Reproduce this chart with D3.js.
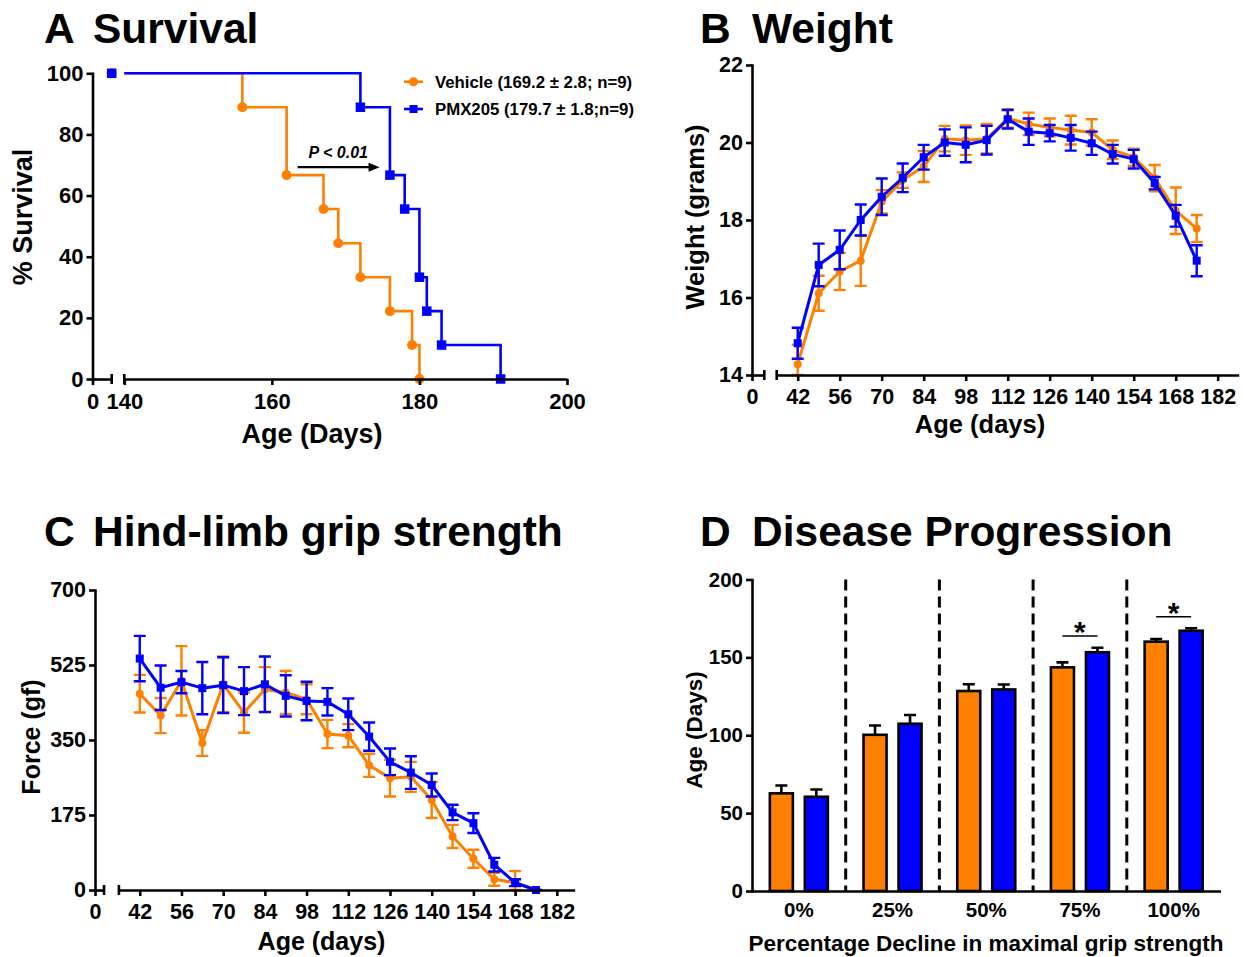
<!DOCTYPE html>
<html>
<head>
<meta charset="utf-8">
<script src="https://cdn.jsdelivr.net/npm/d3@7"></script>
<style>
  body { margin: 0; background: #fff; }
  svg { display: block; }
</style>
</head>
<body>
<svg id="chart" width="1244" height="957"></svg>
<script>
const ORANGE = '#ff8000';
const BLUE = '#0000ff';
const FONT = '"Liberation Sans", Arial, Helvetica, sans-serif';

// A - survival (event day, % surviving after it)
const vehicleDays = [0, 156, 162, 167, 169, 172, 176, 179, 180];
const vehicleSurvival = [100, 88.9, 66.7, 55.6, 44.4, 33.3, 22.2, 11.1, 0];
const pmxDays = [0, 172, 176, 178, 180, 181, 183, 191];
const pmxSurvival = [100, 88.9, 66.7, 55.6, 33.3, 22.2, 11.1, 0];
const legendLabels = ['Vehicle (169.2 \u00b1 2.8; n=9)', 'PMX205 (179.7 \u00b1 1.8;n=9)'];

// B and C share the weekly ages
const ageDays = [42, 49, 56, 63, 70, 77, 84, 91, 98, 105, 112, 119, 126, 133, 140, 147, 154, 161, 168, 175];

// B - weight (g)
const vehicleWeight = [14.28, 16.11, 16.67, 16.95, 18.47, 19.03, 19.38, 20.10, 20.06, 20.10, 20.62, 20.48, 20.39, 20.32, 20.26, 19.81, 19.62, 19.08, 18.24, 17.78];
const vehicleWeightSem = [0.5, 0.45, 0.48, 0.65, 0.3, 0.2, 0.4, 0.33, 0.38, 0.38, 0.24, 0.29, 0.23, 0.37, 0.34, 0.24, 0.22, 0.34, 0.6, 0.35];
const pmxWeight = [14.82, 16.84, 17.23, 18.0, 18.6, 19.09, 19.62, 20.0, 19.94, 20.06, 20.6, 20.28, 20.24, 20.12, 19.98, 19.70, 19.57, 18.95, 18.11, 16.95];
const pmxWeightSem = [0.4, 0.55, 0.5, 0.4, 0.47, 0.37, 0.32, 0.34, 0.45, 0.37, 0.24, 0.34, 0.21, 0.33, 0.3, 0.24, 0.24, 0.16, 0.28, 0.4];

// C - hind-limb grip force (gf)
const vehicleForce = [458, 407, 488, 343, 480, 414, 468, 461, 445, 364, 360, 291, 261, 264, 210, 125, 73, 25, 17, 0];
const vehicleForceSem = [44, 41, 81, 30, 65, 47, 52, 50, 35, 33, 27, 27, 43, 35, 42, 27, 21, 15, 27, 0];
const pmxForce = [540, 472, 485, 471, 478, 464, 480, 453, 441, 439, 410, 358, 299, 274, 245, 181, 156, 59, 17, 0];
const pmxForceSem = [53, 52, 26, 61, 65, 56, 65, 48, 45, 32, 37, 33, 31, 38, 27, 18, 23, 16, 8, 0];

// D - age at grip strength decline (days)
const declineLevels = ['0%', '25%', '50%', '75%', '100%'];
const vehicleOnset = [62.7, 100.3, 128.4, 143.6, 160.1];
const vehicleOnsetSem = [5, 6, 4.3, 3.2, 1.7];
const pmxOnset = [60.5, 107.4, 129.4, 153.3, 167.1];
const pmxOnsetSem = [4.7, 5.6, 3.2, 2.9, 1.6];
const significantLevels = ['75%', '100%'];
const significanceHeights = [163.7, 176.1];

const svg = d3.select('#chart')
  .attr('font-family', FONT)
  .attr('font-weight', 'bold');

function styleAxis(a, size) {
  a.attr('font-family', FONT).attr('font-size', size).attr('font-weight', 'bold');
  a.selectAll('.domain').attr('stroke', '#000').attr('stroke-width', 2.6).attr('stroke-linecap', 'square');
  a.selectAll('.tick line').attr('stroke', '#000').attr('stroke-width', 2.6);
  a.selectAll('.tick text').attr('fill', '#000');
}

function yAxis(g, y, ticks, xPos, size) {
  const a = g.append('g').attr('transform', `translate(${xPos},0)`)
    .call(d3.axisLeft(y).tickValues(ticks).tickFormat(d3.format('d'))
      .tickSize(6).tickSizeOuter(0).tickPadding(3));
  styleAxis(a, size);
}

// x axis with a short piece carrying 0, a gap, then the real range
function brokenXAxis(g, x0, x, yPos, ticks, size) {
  const a0 = g.append('g').attr('transform', `translate(0,${yPos})`)
    .call(d3.axisBottom(x0).tickValues([0]).tickFormat(d3.format('d'))
      .tickSize(6).tickSizeOuter(0).tickPadding(8));
  const a1 = g.append('g').attr('transform', `translate(0,${yPos})`)
    .call(d3.axisBottom(x).tickValues(ticks).tickFormat(d3.format('d'))
      .tickSize(6).tickSizeOuter(0).tickPadding(8));
  styleAxis(a0, size);
  styleAxis(a1, size);
  a0.select('.domain').attr('stroke-linecap', 'butt');
  a1.select('.domain').attr('stroke-linecap', 'butt');
  g.append('g').selectAll('line')
    .data([x0.range()[1], x.range()[0]])
    .join('line')
    .attr('x1', d => d).attr('x2', d => d)
    .attr('y1', yPos - 5).attr('y2', yPos + 5)
    .attr('stroke', '#000').attr('stroke-width', 2.6);
}

function drawMarkers(g, pts, shape, color, size) {
  if (shape === 'circle') {
    g.append('g').selectAll('circle').data(pts).join('circle')
      .attr('cx', d => d[0]).attr('cy', d => d[1]).attr('r', size / 2)
      .attr('fill', color);
  } else {
    g.append('g').selectAll('rect').data(pts).join('rect')
      .attr('x', d => d[0] - size / 2).attr('y', d => d[1] - size / 2)
      .attr('width', size).attr('height', size)
      .attr('fill', color);
  }
}

function title(letter, text, lx, tx, y) {
  const t = svg.append('g').attr('font-size', 42.5).attr('fill', '#000');
  t.append('text').attr('x', lx).attr('y', y).text(letter);
  t.append('text').attr('x', tx).attr('y', y).text(text);
}

function axisTitle(text, x, y, size, rotate) {
  const t = svg.append('text')
    .attr('font-size', size)
    .attr('text-anchor', 'middle')
    .attr('fill', '#000')
    .text(text);
  if (rotate) {
    t.attr('transform', `translate(${x},${y}) rotate(-90)`).attr('dy', '0.36em');
  } else {
    t.attr('x', x).attr('y', y);
  }
}

// ---------- A Survival ----------
title('A', 'Survival', 44, 93, 43);
const gA = svg.append('g');
const xA0 = d3.scaleLinear().domain([0, 2.5]).range([92.5, 111.7]);
const xA = d3.scaleLinear().domain([140, 200]).range([124.3, 567]);
const yA = d3.scaleLinear().domain([0, 100]).range([379, 73.3]);

const stepLine = d3.line()
  .curve(d3.curveStepAfter)
  .x(d => xA(Math.max(d.day, xA.domain()[0])))
  .y(d => yA(d.s));

const survival = [
  { days: vehicleDays, surv: vehicleSurvival, color: ORANGE, shape: 'circle' },
  { days: pmxDays, surv: pmxSurvival, color: BLUE, shape: 'square' }
];
survival.forEach(s => {
  const pts = s.days.map((d, i) => ({ day: d, s: s.surv[i] }));
  gA.append('path').datum(pts)
    .attr('d', stepLine)
    .attr('fill', 'none')
    .attr('stroke', s.color)
    .attr('stroke-width', 2.6);
  drawMarkers(gA, pts.map(p => [p.day === 0 ? xA0.range()[1] : xA(p.day), yA(p.s)]),
    s.shape, s.color, s.shape === 'circle' ? 10 : 9.5);
});
yAxis(gA, yA, [0, 20, 40, 60, 80, 100], xA0.range()[0], 22);
brokenXAxis(gA, xA0, xA, yA(0), [140, 160, 180, 200], 22);

// p-value arrow
const arrowY = yA(69.3);
const arrowFrom = xA(163.5), arrowTo = xA(174.6);
gA.append('line')
  .attr('x1', arrowFrom).attr('x2', arrowTo - 8)
  .attr('y1', arrowY).attr('y2', arrowY)
  .attr('stroke', '#000').attr('stroke-width', 2.2);
gA.append('path')
  .attr('d', `M${arrowTo},${arrowY}L${arrowTo - 11},${arrowY - 4.5}L${arrowTo - 11},${arrowY + 4.5}Z`)
  .attr('fill', '#000');
gA.append('text')
  .attr('x', xA(169)).attr('y', yA(72.2))
  .attr('text-anchor', 'middle')
  .attr('font-size', 16)
  .attr('font-style', 'italic')
  .text('P < 0.01');

// legend
const legend = gA.append('g');
legendLabels.forEach((lab, i) => {
  const ly = 81.7 + i * 27.3;
  const s = survival[i];
  legend.append('line')
    .attr('x1', 404).attr('x2', 423).attr('y1', ly).attr('y2', ly)
    .attr('stroke', s.color).attr('stroke-width', 2.6);
  drawMarkers(legend, [[413.5, ly]], s.shape, s.color, s.shape === 'circle' ? 9 : 8);
  legend.append('text')
    .attr('x', 435).attr('y', ly).attr('dy', '0.36em')
    .attr('font-size', 16.8)
    .text(lab);
});
axisTitle('% Survival', 22, 217, 27, true);
axisTitle('Age (Days)', 312, 443, 27, false);

// ---------- B / C line panels ----------
function linePanel(spec) {
  const g = svg.append('g');
  const series = [
    { values: spec.vehicle, sem: spec.vehicleSem, color: ORANGE, shape: 'circle' },
    { values: spec.pmx, sem: spec.pmxSem, color: BLUE, shape: 'square' }
  ];
  const line = d3.line().x(d => spec.x(d.day)).y(d => spec.y(d.v));
  series.forEach(s => {
    const pts = ageDays.map((d, i) => ({ day: d, v: s.values[i], e: s.sem[i] }));
    const eb = g.append('g').attr('stroke', s.color).attr('stroke-width', 2.4);
    eb.selectAll('path').data(pts).join('path')
      .attr('d', p => {
        const cx = spec.x(p.day), lo = spec.y(p.v - p.e), hi = spec.y(p.v + p.e);
        return `M${cx},${lo}V${hi}M${cx - 6},${hi}H${cx + 6}M${cx - 6},${lo}H${cx + 6}`;
      })
      .attr('fill', 'none');
    g.append('path').datum(pts)
      .attr('d', line)
      .attr('fill', 'none')
      .attr('stroke', s.color)
      .attr('stroke-width', 3)
      .attr('stroke-linejoin', 'round');
    drawMarkers(g, pts.map(p => [spec.x(p.day), spec.y(p.v)]), s.shape, s.color, 8);
  });
  yAxis(g, spec.y, spec.yTicks, spec.x0.range()[0], 21.5);
  brokenXAxis(g, spec.x0, spec.x, spec.y.range()[0], spec.xTicks, 21.5);
}

const weekTicks = d3.range(42, 183, 14);

title('B', 'Weight', 700, 752, 43);
linePanel({
  x0: d3.scaleLinear().domain([0, 4]).range([752, 764.3]),
  x: d3.scaleLinear().domain([35, 189]).range([776.7, 1238.7]),
  y: d3.scaleLinear().domain([14, 22]).range([375, 65]).clamp(true),
  yTicks: [14, 16, 18, 20, 22],
  xTicks: weekTicks,
  vehicle: vehicleWeight, vehicleSem: vehicleWeightSem,
  pmx: pmxWeight, pmxSem: pmxWeightSem
});
axisTitle('Weight (grams)', 695, 217, 25.5, true);
axisTitle('Age (days)', 980, 433, 25.5, false);

title('C', 'Hind-limb grip strength', 44, 93, 546);
linePanel({
  x0: d3.scaleLinear().domain([0, 3]).range([95, 104]),
  x: d3.scaleLinear().domain([35, 188]).range([118.9, 574.7]),
  y: d3.scaleLinear().domain([0, 700]).range([890, 590]).clamp(true),
  yTicks: [0, 175, 350, 525, 700],
  xTicks: weekTicks,
  vehicle: vehicleForce, vehicleSem: vehicleForceSem,
  pmx: pmxForce, pmxSem: pmxForceSem
});
axisTitle('Force (gf)', 30.6, 737, 25, true);
axisTitle('Age (days)', 321.5, 950, 25, false);

// ---------- D Disease progression ----------
title('D', 'Disease Progression', 700, 752, 546);
const gD = svg.append('g');
const xD = d3.scaleBand().domain(declineLevels).range([752, 1220.5]);
const bw = xD.bandwidth();
const xD1 = d3.scaleBand().domain(['vehicle', 'pmx'])
  .range([bw / 2 - 29, bw / 2 + 29]).paddingInner(12 / 35);
const yD = d3.scaleLinear().domain([0, 200]).range([891, 579.5]);

// dashed dividers between groups
gD.append('g').selectAll('line')
  .data(declineLevels.slice(1))
  .join('line')
  .attr('x1', d => xD(d)).attr('x2', d => xD(d))
  .attr('y1', yD(200)).attr('y2', yD(0))
  .attr('stroke', '#000').attr('stroke-width', 3)
  .attr('stroke-dasharray', '11,6');

const barSeries = [
  { key: 'vehicle', values: vehicleOnset, sem: vehicleOnsetSem, color: ORANGE },
  { key: 'pmx', values: pmxOnset, sem: pmxOnsetSem, color: BLUE }
];
barSeries.forEach(s => {
  const data = declineLevels.map((c, i) => ({ c, v: s.values[i], e: s.sem[i] }));
  const bx = d => xD(d.c) + xD1(s.key);
  gD.append('g').selectAll('path').data(data).join('path')
    .attr('d', d => {
      const cx = bx(d) + xD1.bandwidth() / 2, top = yD(d.v + d.e);
      return `M${cx},${yD(d.v)}V${top}M${cx - 6},${top}H${cx + 6}`;
    })
    .attr('stroke', '#000').attr('stroke-width', 2.6).attr('fill', 'none');
  gD.append('g').selectAll('rect').data(data).join('rect')
    .attr('x', bx)
    .attr('y', d => yD(d.v))
    .attr('width', xD1.bandwidth())
    .attr('height', d => yD(0) - yD(d.v))
    .attr('fill', s.color)
    .attr('stroke', '#000')
    .attr('stroke-width', 2.6);
});

// significance marks
significantLevels.forEach((c, i) => {
  const x1 = xD(c) + xD1('vehicle') + xD1.bandwidth() / 2;
  const x2 = xD(c) + xD1('pmx') + xD1.bandwidth() / 2;
  const yy = yD(significanceHeights[i]);
  gD.append('line').attr('x1', x1).attr('x2', x2).attr('y1', yy).attr('y2', yy)
    .attr('stroke', '#000').attr('stroke-width', 1.6);
  gD.append('text').attr('x', (x1 + x2) / 2).attr('y', yy + 6)
    .attr('text-anchor', 'middle').attr('font-size', 30).text('*');
});

const axD = gD.append('g').attr('transform', `translate(0,${yD(0)})`)
  .call(d3.axisBottom(xD).tickSize(0).tickPadding(11));
styleAxis(axD, 20.5);
axD.select('.domain').attr('stroke-linecap', 'butt');
yAxis(gD, yD, [0, 50, 100, 150, 200], xD.range()[0], 20.5);

axisTitle('Age (Days)', 693.5, 730, 22.5, true);
axisTitle('Percentage Decline in maximal grip strength', 986, 951, 22.5, false);
</script>
</body>
</html>
